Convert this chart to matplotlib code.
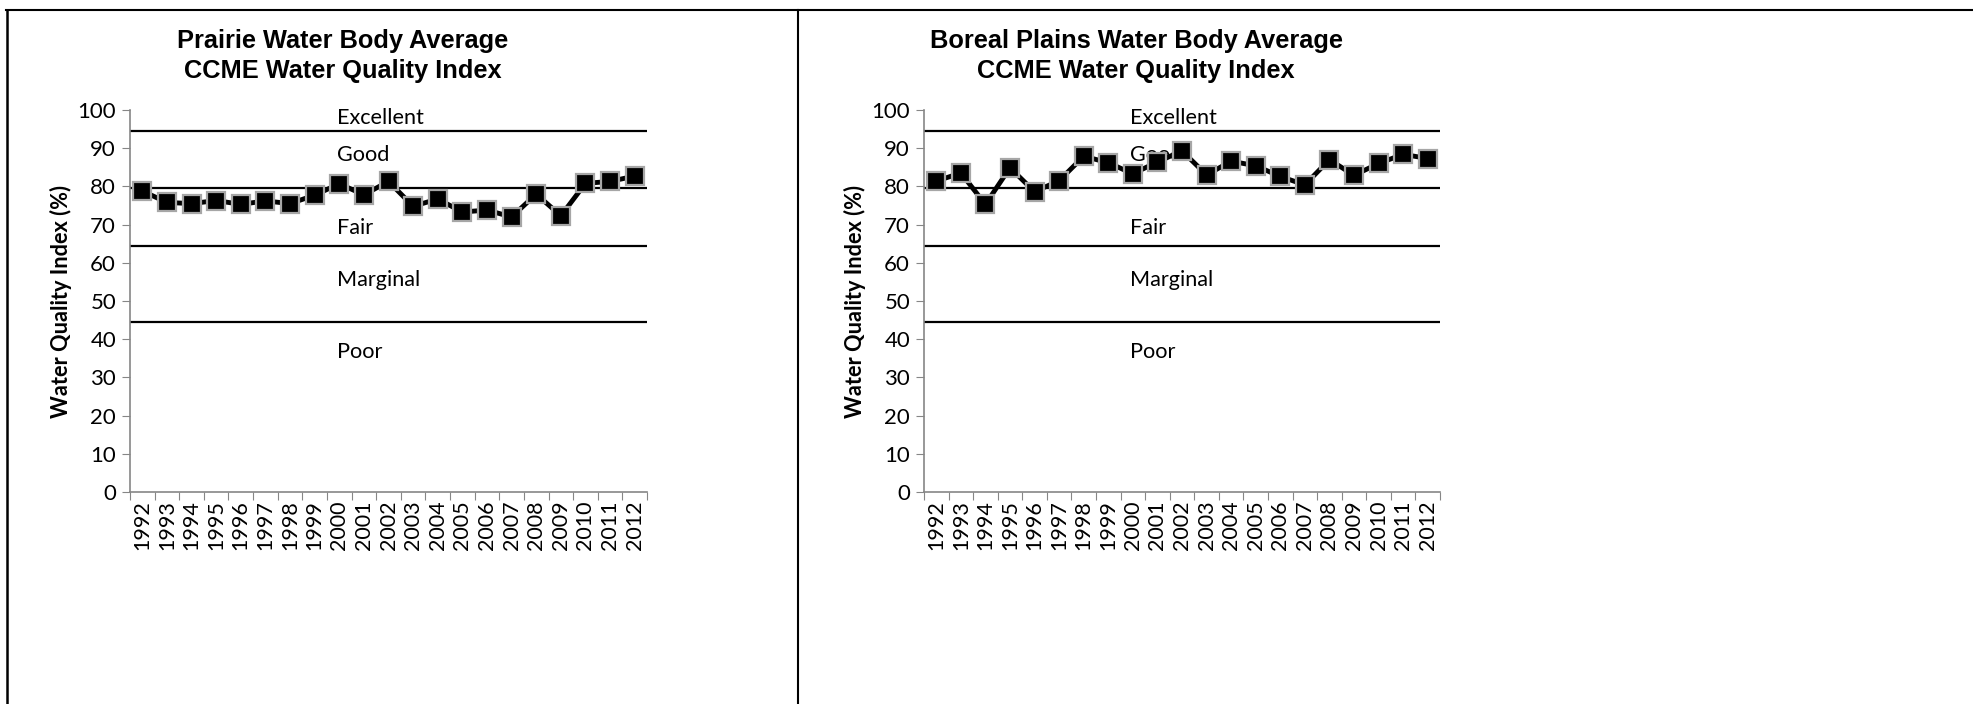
import numpy as np
import matplotlib
matplotlib.use("Agg")
import matplotlib.pyplot as plt
from matplotlib.lines import Line2D

# Data
years = [str(y) for y in range(1992, 2013)]
prairie = [78.8, 75.8, 75.5, 76.3, 75.3, 76.2, 75.5, 77.7, 80.7, 77.8, 81.3,
           74.8, 76.7, 73.3, 73.8, 72.0, 78.0, 72.3, 80.8, 81.3, 82.7]
boreal = [81.4, 83.5, 75.3, 84.9, 78.6, 81.5, 87.9, 86.2, 83.3, 86.4, 89.3,
          83.0, 86.6, 85.4, 82.6, 80.4, 87.0, 82.9, 86.0, 88.4, 87.3]
titles = ["Prairie Water Body Average\nCCME Water Quality Index",
          "Boreal Plains Water Body Average\nCCME Water Quality Index"]
thresholds = [94.5, 79.5, 64.5, 44.5]
class_names = ["Excellent", "Good", "Fair", "Marginal", "Poor"]
class_y = [97.8, 88.3, 69.0, 55.5, 36.6]

W, H = 1973, 704
fig = plt.figure(figsize=(W / 100, H / 100), dpi=100)

body_font = "Lato"
title_font = "Liberation Sans"
axis_grey = "#868686"

panels = [
    (130, 647, 343, prairie, titles[0]),
    (924, 1440, 1136, boreal, titles[1]),
]

for x0, x1, tx, vals, title in panels:
    ax = fig.add_axes([x0 / W, 1 - 492 / H, (x1 - x0) / W, 382 / H])
    x = np.arange(len(years))
    for t in thresholds:
        ax.axhline(t, color="black", lw=1.6, zorder=2)
    for name, yy in zip(class_names, class_y):
        ax.text(0.40, yy, name, transform=ax.get_yaxis_transform(),
                ha="left", va="center", fontsize=15.6, family=body_font,
                zorder=3)
    ax.plot(x, vals, color="black", lw=3.5, marker="s", ms=13.5,
            mfc="black", mec="#a6a6a6", mew=1.6, zorder=4)

    ax.set_xlim(-0.5, len(years) - 0.5)
    ax.set_ylim(0, 100)
    ax.set_yticks(range(0, 101, 10))
    ax.set_xticks(np.arange(-0.5, len(years), 1.0))
    ax.set_xticklabels([])
    ax.set_xticks(x, minor=True)
    ax.set_xticklabels(years, minor=True, rotation=90, fontsize=15.5,
                       family=body_font)
    ax.tick_params(axis="x", which="minor", length=0, pad=6)
    ax.tick_params(axis="x", which="major", length=6, color=axis_grey,
                   direction="out")
    ax.tick_params(axis="y", length=6, color=axis_grey, direction="out",
                   labelsize=16, pad=4)
    for lab in ax.get_yticklabels():
        lab.set_family(body_font)
    for s in ["top", "right"]:
        ax.spines[s].set_visible(False)
    for s in ["left", "bottom"]:
        ax.spines[s].set_color(axis_grey)
        ax.spines[s].set_linewidth(1.2)
    ax.set_ylabel("Water Quality Index (%)", fontsize=15.7, fontweight="bold",
                  family=body_font)
    ax.yaxis.set_label_coords(-0.112, 0.50)

    fig.text(tx / W, 1 - 56 / H, title, ha="center", va="center",
             fontsize=18.3, fontweight="bold", family=title_font,
             linespacing=1.3)

# panel borders
fig.add_artist(Line2D([6 / W, 1], [1 - 9.5 / H, 1 - 9.5 / H],
                      color="black", lw=1.5, transform=fig.transFigure))
fig.add_artist(Line2D([6.5 / W, 6.5 / W], [0, 1 - 9.5 / H],
                      color="black", lw=1.8, transform=fig.transFigure))
fig.add_artist(Line2D([798 / W, 798 / W], [0, 1 - 9.5 / H],
                      color="black", lw=1.5, transform=fig.transFigure))

fig.savefig("out.png", dpi=100)
